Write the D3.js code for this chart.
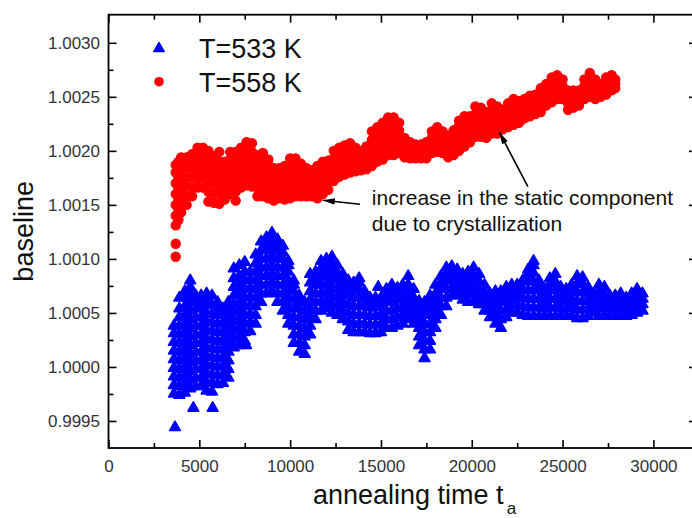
<!DOCTYPE html>
<html>
<head>
<meta charset="utf-8">
<script src="https://cdn.jsdelivr.net/npm/d3@7/dist/d3.min.js"></script>
<style>
  html, body { margin: 0; padding: 0; background: #fff; }
  svg { display: block; font-family: Arial, "Liberation Sans", Helvetica, sans-serif; }
</style>
</head>
<body>
<svg id="chart" width="692" height="518"></svg>
<script>
// ---------------- data ----------------
const seriesNames = ["T=533 K", "T=558 K"];
const seriesColors = ["#0000ff", "#ff0000"];

const xTickValues = [0, 5000, 10000, 15000, 20000, 25000, 30000];
const xMinorValues = [2500, 7500, 12500, 17500, 22500, 27500];
const yTickValues = [0.9995, 1.0000, 1.0005, 1.0010, 1.0015, 1.0020, 1.0025, 1.0030];
const yMinorValues = [0.99975, 1.00025, 1.00075, 1.00125, 1.00175, 1.00225, 1.00275];

const xTitle = "annealing time t";
const xTitleSub = "a";
const yTitle = "baseline";

const annotationLines = ["increase in the static component", "due to crystallization"];
const annotationAnchor = [14500, 1.001497];
const arrowTails = [[13850, 1.001506], [23090, 1.001668]];
const arrowTips = [[11800, 1.001543], [21520, 1.002173]];

// T = 558 K (red circles)
const redTime = [3700, 3850, 4000, 4300, 4600, 4900, 5200, 5500, 5800, 6100, 6400, 6700, 7000, 7300, 7600, 7900,
  8200, 8500, 8800, 9100, 9400, 9700, 10000, 10300, 10600, 10900, 11200, 11500, 11800, 12100, 12400, 12700,
  13000, 13300, 13600, 13900, 14200, 14500, 14800, 15100, 15400, 15700, 16000, 16300, 16600, 16900, 17200,
  17500, 17800, 18100, 18400, 18700, 19000, 19300, 19600, 19900, 20200, 20500, 20800, 21100, 21400, 21700,
  22000, 22300, 22600, 22900, 23200, 23500, 23800, 24100, 24400, 24700, 25000, 25300, 25600, 25900, 26200,
  26500, 26800, 27100, 27400, 27700, 27900];
const redBaseline = [
  [1.00102, 1.00114, 1.00131, 1.00140, 1.00150, 1.00160, 1.00170, 1.00180, 1.00187],
  [1.00136, 1.00146, 1.00156, 1.00166, 1.00176, 1.00184, 1.00190],
  [1.00143, 1.00152, 1.00162, 1.00172, 1.00182, 1.00190, 1.00194],
  [1.00150, 1.00158, 1.00167, 1.00176, 1.00185, 1.00194],
  [1.00158, 1.00166, 1.00175, 1.00184, 1.00192, 1.00197],
  [1.00166, 1.00174, 1.00182, 1.00190, 1.00198, 1.00203],
  [1.00166, 1.00175, 1.00184, 1.00192, 1.00200, 1.00203],
  [1.00153, 1.00162, 1.00171, 1.00180, 1.00189, 1.00196, 1.00200],
  [1.00152, 1.00161, 1.00170, 1.00178, 1.00187, 1.00195],
  [1.00151, 1.00160, 1.00168, 1.00176, 1.00184, 1.00190, 1.00199],
  [1.00155, 1.00163, 1.00171, 1.00179, 1.00186, 1.00190],
  [1.00160, 1.00168, 1.00176, 1.00184, 1.00192, 1.00199],
  [1.00154, 1.00162, 1.00170, 1.00178, 1.00186, 1.00194, 1.00199],
  [1.00166, 1.00174, 1.00182, 1.00190, 1.00198, 1.00203],
  [1.00168, 1.00176, 1.00184, 1.00192, 1.00200, 1.00208],
  [1.00167, 1.00175, 1.00183, 1.00191, 1.00199, 1.00207],
  [1.00158, 1.00166, 1.00174, 1.00182, 1.00190, 1.00196],
  [1.00158, 1.00166, 1.00174, 1.00182, 1.00190, 1.00198],
  [1.00156, 1.00164, 1.00172, 1.00180, 1.00187, 1.00192],
  [1.00154, 1.00162, 1.00170, 1.00178, 1.00184],
  [1.00156, 1.00164, 1.00171, 1.00178, 1.00184],
  [1.00155, 1.00163, 1.00171, 1.00179, 1.00186],
  [1.00156, 1.00164, 1.00172, 1.00180, 1.00187, 1.00193],
  [1.00158, 1.00166, 1.00174, 1.00182, 1.00188, 1.00193],
  [1.00158, 1.00166, 1.00174, 1.00181, 1.00188],
  [1.00158, 1.00165, 1.00172, 1.00179, 1.00184],
  [1.00158, 1.00165, 1.00172, 1.00178, 1.00182],
  [1.00156, 1.00164, 1.00172, 1.00180, 1.00186],
  [1.00160, 1.00168, 1.00176, 1.00184, 1.00190],
  [1.00164, 1.00171, 1.00178, 1.00185, 1.00191],
  [1.00172, 1.00179, 1.00186, 1.00193, 1.00200],
  [1.00176, 1.00183, 1.00190, 1.00197, 1.00203],
  [1.00178, 1.00185, 1.00192, 1.00199, 1.00205],
  [1.00180, 1.00187, 1.00194, 1.00201, 1.00207],
  [1.00181, 1.00188, 1.00195, 1.00203],
  [1.00182, 1.00188, 1.00194, 1.00200],
  [1.00183, 1.00190, 1.00197, 1.00204],
  [1.00186, 1.00194, 1.00202, 1.00210, 1.00218],
  [1.00190, 1.00198, 1.00206, 1.00214, 1.00222],
  [1.00192, 1.00200, 1.00208, 1.00217, 1.00226],
  [1.00196, 1.00204, 1.00212, 1.00220, 1.00226, 1.00231],
  [1.00196, 1.00204, 1.00212, 1.00220, 1.00226, 1.00231],
  [1.00198, 1.00205, 1.00212, 1.00219, 1.00226],
  [1.00194, 1.00200, 1.00206, 1.00212],
  [1.00193, 1.00199, 1.00204, 1.00208],
  [1.00193, 1.00199, 1.00206],
  [1.00193, 1.00199, 1.00206],
  [1.00193, 1.00200, 1.00208],
  [1.00198, 1.00205, 1.00212, 1.00218],
  [1.00199, 1.00207, 1.00215, 1.00222],
  [1.00198, 1.00205, 1.00212, 1.00218],
  [1.00194, 1.00201, 1.00208, 1.00214],
  [1.00196, 1.00204, 1.00212, 1.00219],
  [1.00200, 1.00208, 1.00216, 1.00223, 1.00228],
  [1.00204, 1.00211, 1.00218, 1.00225, 1.00232],
  [1.00208, 1.00215, 1.00222, 1.00228, 1.00232],
  [1.00213, 1.00220, 1.00227, 1.00234, 1.00241],
  [1.00213, 1.00220, 1.00227, 1.00234, 1.00240],
  [1.00212, 1.00219, 1.00226, 1.00232, 1.00236],
  [1.00216, 1.00223, 1.00230, 1.00237, 1.00244],
  [1.00216, 1.00223, 1.00230, 1.00236, 1.00241],
  [1.00220, 1.00226, 1.00232, 1.00238],
  [1.00222, 1.00229, 1.00236, 1.00244],
  [1.00224, 1.00232, 1.00240, 1.00248],
  [1.00226, 1.00233, 1.00240, 1.00246],
  [1.00230, 1.00236, 1.00242, 1.00248],
  [1.00232, 1.00239, 1.00245, 1.00251],
  [1.00234, 1.00240, 1.00246, 1.00252],
  [1.00236, 1.00243, 1.00250, 1.00258],
  [1.00242, 1.00249, 1.00256, 1.00262],
  [1.00245, 1.00253, 1.00261, 1.00268],
  [1.00248, 1.00256, 1.00264, 1.00270],
  [1.00248, 1.00254, 1.00260, 1.00266],
  [1.00238, 1.00244, 1.00250, 1.00256],
  [1.00240, 1.00246, 1.00251, 1.00256],
  [1.00242, 1.00248, 1.00253, 1.00256],
  [1.00248, 1.00254, 1.00260, 1.00266],
  [1.00250, 1.00258, 1.00265, 1.00272],
  [1.00248, 1.00254, 1.00260, 1.00266],
  [1.00250, 1.00256, 1.00262],
  [1.00252, 1.00259, 1.00268],
  [1.00256, 1.00263, 1.00270],
  [1.00258, 1.00262, 1.00266]
];

// T = 533 K (blue triangles)
const blueTime = [3600, 3660, 3900, 4200, 4500, 4670, 4800, 5100, 5400, 5700, 5735, 6000, 6300, 6600, 6900, 7200,
  7500, 7570, 7800, 8100, 8400, 8700, 9000, 9300, 9600, 9900, 10200, 10500, 10800, 11100, 11400, 11700, 12000,
  12300, 12600, 12900, 13200, 13500, 13800, 14100, 14400, 14700, 14850, 15000, 15300, 15600, 15900, 16200,
  16500, 16800, 17100, 17400, 17700, 18000, 18300, 18600, 18900, 19200, 19500, 19800, 20100, 20400, 20700,
  21000, 21300, 21600, 21900, 22200, 22500, 22800, 23100, 23400, 23700, 24000, 24300, 24600, 24900, 25200,
  25500, 25800, 26100, 26400, 26700, 27000, 27300, 27600, 27900, 28200, 28500, 28800, 29100, 29400];
const blueBaseline = [
  [0.99975, 0.99983, 0.99991, 0.99999, 1.00007, 1.00015, 1.00023, 1.00031, 1.00038],
  [0.99944],
  [0.99974, 0.99982, 0.99990, 0.99998, 1.00006, 1.00014, 1.00022, 1.00030, 1.00038, 1.00046, 1.00054, 1.00064],
  [0.99976, 0.99984, 0.99992, 1.00000, 1.00008, 1.00016, 1.00024, 1.00032, 1.00040, 1.00048, 1.00056, 1.00064, 1.00070],
  [0.99980, 0.99988, 0.99996, 1.00004, 1.00012, 1.00020, 1.00028, 1.00036, 1.00044, 1.00052, 1.00060, 1.00068, 1.00074, 1.00080],
  [0.99962],
  [0.99982, 0.99990, 0.99998, 1.00006, 1.00014, 1.00022, 1.00030, 1.00038, 1.00046, 1.00054, 1.00060, 1.00066],
  [0.99982, 0.99990, 0.99998, 1.00006, 1.00014, 1.00022, 1.00030, 1.00038, 1.00046, 1.00054, 1.00060, 1.00066],
  [0.99978, 0.99986, 0.99994, 1.00002, 1.00010, 1.00018, 1.00026, 1.00034, 1.00042, 1.00050, 1.00058, 1.00064, 1.00068],
  [0.99977, 0.99985, 0.99993, 1.00001, 1.00009, 1.00017, 1.00025, 1.00033, 1.00041, 1.00049, 1.00057, 1.00066],
  [0.99962],
  [0.99984, 0.99992, 1.00000, 1.00008, 1.00016, 1.00024, 1.00032, 1.00040, 1.00048, 1.00054, 1.00060],
  [0.99985, 0.99993, 1.00001, 1.00009, 1.00017, 1.00025, 1.00033, 1.00041, 1.00048, 1.00054],
  [0.99990, 0.99998, 1.00006, 1.00014, 1.00022, 1.00030, 1.00038, 1.00046, 1.00053, 1.00060],
  [1.00018, 1.00026, 1.00034, 1.00042, 1.00050, 1.00058, 1.00066, 1.00074, 1.00082, 1.00091],
  [1.00020, 1.00028, 1.00036, 1.00044, 1.00052, 1.00060, 1.00068, 1.00076, 1.00084, 1.00094],
  [1.00024, 1.00032, 1.00040, 1.00048, 1.00056, 1.00064, 1.00072, 1.00080, 1.00088, 1.00097],
  [1.00020],
  [1.00033, 1.00041, 1.00049, 1.00057, 1.00065, 1.00073, 1.00081, 1.00088],
  [1.00040, 1.00048, 1.00056, 1.00064, 1.00072, 1.00080, 1.00088, 1.00096, 1.00104],
  [1.00060, 1.00068, 1.00076, 1.00084, 1.00092, 1.00100, 1.00108, 1.00116],
  [1.00068, 1.00076, 1.00084, 1.00092, 1.00100, 1.00108, 1.00114, 1.00120],
  [1.00070, 1.00078, 1.00086, 1.00094, 1.00102, 1.00110, 1.00117, 1.00124],
  [1.00060, 1.00068, 1.00076, 1.00084, 1.00092, 1.00100, 1.00108, 1.00114, 1.00118],
  [1.00052, 1.00060, 1.00068, 1.00076, 1.00084, 1.00092, 1.00100, 1.00106, 1.00112],
  [1.00040, 1.00048, 1.00056, 1.00064, 1.00072, 1.00080, 1.00088, 1.00094, 1.00098],
  [1.00022, 1.00030, 1.00038, 1.00046, 1.00054, 1.00062, 1.00070, 1.00076, 1.00080],
  [1.00014, 1.00022, 1.00030, 1.00038, 1.00046, 1.00054, 1.00060, 1.00066],
  [1.00012, 1.00020, 1.00028, 1.00036, 1.00044, 1.00052, 1.00060],
  [1.00030, 1.00038, 1.00046, 1.00054, 1.00062, 1.00070, 1.00078, 1.00086],
  [1.00044, 1.00052, 1.00060, 1.00068, 1.00076, 1.00082, 1.00088],
  [1.00052, 1.00060, 1.00068, 1.00076, 1.00084, 1.00091, 1.00098],
  [1.00054, 1.00062, 1.00070, 1.00078, 1.00086, 1.00093, 1.00100],
  [1.00050, 1.00058, 1.00066, 1.00074, 1.00082, 1.00090, 1.00096, 1.00102],
  [1.00048, 1.00056, 1.00064, 1.00072, 1.00080, 1.00087, 1.00094],
  [1.00044, 1.00052, 1.00060, 1.00068, 1.00075, 1.00081, 1.00086],
  [1.00034, 1.00042, 1.00050, 1.00058, 1.00066, 1.00074, 1.00080],
  [1.00032, 1.00040, 1.00048, 1.00056, 1.00064, 1.00071, 1.00078],
  [1.00032, 1.00040, 1.00048, 1.00056, 1.00064, 1.00072, 1.00078, 1.00082],
  [1.00032, 1.00040, 1.00048, 1.00056, 1.00063, 1.00070],
  [1.00031, 1.00039, 1.00047, 1.00055, 1.00060, 1.00064],
  [1.00031, 1.00039, 1.00047, 1.00055, 1.00060, 1.00064],
  [1.00074],
  [1.00032, 1.00040, 1.00048, 1.00056, 1.00064],
  [1.00036, 1.00044, 1.00052, 1.00060, 1.00066, 1.00072],
  [1.00036, 1.00044, 1.00052, 1.00060, 1.00068, 1.00076],
  [1.00038, 1.00046, 1.00054, 1.00062, 1.00068, 1.00073],
  [1.00040, 1.00048, 1.00056, 1.00064, 1.00070, 1.00076],
  [1.00044, 1.00052, 1.00060, 1.00068, 1.00076, 1.00084],
  [1.00040, 1.00048, 1.00056, 1.00064, 1.00072],
  [1.00020, 1.00028, 1.00036, 1.00044, 1.00052, 1.00058, 1.00061],
  [1.00008, 1.00016, 1.00024, 1.00032, 1.00040, 1.00048, 1.00054, 1.00060],
  [1.00016, 1.00024, 1.00032, 1.00040, 1.00048, 1.00056, 1.00062, 1.00066],
  [1.00036, 1.00044, 1.00052, 1.00060, 1.00068, 1.00076],
  [1.00048, 1.00056, 1.00064, 1.00072, 1.00078, 1.00084],
  [1.00056, 1.00064, 1.00072, 1.00080, 1.00086, 1.00092],
  [1.00066, 1.00073, 1.00080, 1.00087, 1.00093],
  [1.00066, 1.00072, 1.00078, 1.00084, 1.00090],
  [1.00062, 1.00068, 1.00074, 1.00080, 1.00086],
  [1.00060, 1.00067, 1.00074, 1.00081, 1.00088],
  [1.00060, 1.00068, 1.00076, 1.00084, 1.00092],
  [1.00058, 1.00065, 1.00072, 1.00079, 1.00086],
  [1.00052, 1.00058, 1.00064, 1.00070, 1.00076],
  [1.00046, 1.00052, 1.00058, 1.00063, 1.00068],
  [1.00040, 1.00048, 1.00056, 1.00063, 1.00070],
  [1.00036, 1.00044, 1.00052, 1.00060, 1.00066, 1.00070],
  [1.00046, 1.00053, 1.00060, 1.00067, 1.00074],
  [1.00050, 1.00057, 1.00064, 1.00070, 1.00076],
  [1.00050, 1.00057, 1.00064, 1.00070, 1.00076],
  [1.00048, 1.00056, 1.00064, 1.00072, 1.00080],
  [1.00047, 1.00055, 1.00063, 1.00071, 1.00079, 1.00086, 1.00090],
  [1.00047, 1.00055, 1.00063, 1.00071, 1.00079, 1.00087, 1.00094, 1.00098],
  [1.00047, 1.00055, 1.00063, 1.00071, 1.00076, 1.00080],
  [1.00047, 1.00054, 1.00061, 1.00067, 1.00072],
  [1.00047, 1.00055, 1.00063, 1.00071, 1.00077, 1.00082],
  [1.00047, 1.00055, 1.00063, 1.00071, 1.00079, 1.00086],
  [1.00047, 1.00054, 1.00061, 1.00068, 1.00074],
  [1.00047, 1.00054, 1.00061, 1.00067, 1.00072],
  [1.00047, 1.00055, 1.00063, 1.00070, 1.00076],
  [1.00045, 1.00053, 1.00061, 1.00069, 1.00077, 1.00084],
  [1.00045, 1.00053, 1.00061, 1.00069, 1.00077, 1.00083],
  [1.00047, 1.00054, 1.00061, 1.00068, 1.00074],
  [1.00050, 1.00056, 1.00062, 1.00068],
  [1.00047, 1.00055, 1.00063, 1.00070, 1.00076],
  [1.00047, 1.00054, 1.00061, 1.00068, 1.00074],
  [1.00047, 1.00054, 1.00060, 1.00066],
  [1.00047, 1.00054, 1.00060, 1.00066],
  [1.00047, 1.00054, 1.00061, 1.00068],
  [1.00047, 1.00053, 1.00059, 1.00064],
  [1.00048, 1.00055, 1.00062, 1.00068],
  [1.00050, 1.00057, 1.00064, 1.00072],
  [1.00052, 1.00058, 1.00063, 1.00068]
];

// ---------------- drawing ----------------
const svg = d3.select("#chart");
const W = 692, H = 518;
const plot = { left: 108.5, right: 697, top: 14.7, bottom: 448 };

const x = d3.scaleLinear().domain([0, 32400]).range([plot.left, plot.right]);
const y = d3.scaleLinear().domain([0.99925, 1.00326]).range([plot.bottom, plot.top]);

svg.append("rect").attr("width", W).attr("height", H).attr("fill", "#fff");

const flatten = (times, vals) => times.flatMap((t, i) => vals[i].map(v => ({ t, v })));
const bluePts = flatten(blueTime, blueBaseline);
const redPts = flatten(redTime, redBaseline);

const tri = d3.symbol().type(d3.symbolTriangle).size(50);

svg.append("g").selectAll("path").data(bluePts).join("path")
  .attr("d", tri)
  .attr("transform", d => `translate(${x(d.t)},${y(d.v)})`)
  .attr("fill", seriesColors[0])
  .attr("stroke", seriesColors[0]).attr("stroke-width", 1.6).attr("stroke-linejoin", "round");

svg.append("g").selectAll("circle").data(redPts).join("circle")
  .attr("cx", d => x(d.t)).attr("cy", d => y(d.v)).attr("r", 4.6)
  .attr("fill", seriesColors[1])
  .attr("stroke", seriesColors[1]).attr("stroke-width", 1.2);

// axes
const fmtY = d3.format(".4f");
const axisStyle = g => {
  g.select(".domain").remove();
  g.selectAll("line").attr("stroke", "#000").attr("stroke-width", 1.6);
  g.selectAll("text").attr("fill", "#333").attr("font-size", 17)
    .attr("font-family", "Arial, 'Liberation Sans', sans-serif");
};

svg.append("g").attr("transform", `translate(0,${plot.bottom})`)
  .call(d3.axisBottom(x).tickValues(xTickValues).tickFormat(d3.format("d")).tickSize(-8).tickPadding(12))
  .call(axisStyle);
svg.append("g").attr("transform", `translate(0,${plot.bottom})`)
  .call(d3.axisBottom(x).tickValues(xMinorValues).tickFormat("").tickSize(-5))
  .call(axisStyle);
svg.append("g").attr("transform", `translate(0,${plot.top})`)
  .call(d3.axisTop(x).tickValues(xTickValues).tickFormat("").tickSize(-8))
  .call(axisStyle);
svg.append("g").attr("transform", `translate(0,${plot.top})`)
  .call(d3.axisTop(x).tickValues(xMinorValues).tickFormat("").tickSize(-5))
  .call(axisStyle);

svg.append("g").attr("transform", `translate(${plot.left},0)`)
  .call(d3.axisLeft(y).tickValues(yTickValues).tickFormat(fmtY).tickSize(-8).tickPadding(8.5))
  .call(axisStyle);
svg.append("g").attr("transform", `translate(${plot.left},0)`)
  .call(d3.axisLeft(y).tickValues(yMinorValues).tickFormat("").tickSize(-5))
  .call(axisStyle);
svg.append("g").attr("transform", `translate(${plot.right},0)`)
  .call(d3.axisRight(y).tickValues(yTickValues).tickFormat("").tickSize(-8))
  .call(axisStyle);
svg.append("g").attr("transform", `translate(${plot.right},0)`)
  .call(d3.axisRight(y).tickValues(yMinorValues).tickFormat("").tickSize(-5))
  .call(axisStyle);

// frame
svg.append("rect")
  .attr("x", plot.left).attr("y", plot.top)
  .attr("width", plot.right - plot.left).attr("height", plot.bottom - plot.top)
  .attr("fill", "none").attr("stroke", "#000").attr("stroke-width", 1.8);

// axis titles
svg.append("text")
  .attr("transform", `translate(33,${(plot.top + plot.bottom) / 2}) rotate(-90)`)
  .attr("text-anchor", "middle").attr("font-size", 27).attr("fill", "#111")
  .text(yTitle);

const xt = svg.append("text")
  .attr("x", 313).attr("y", 504).attr("font-size", 27).attr("fill", "#111");
xt.append("tspan").text(xTitle);
xt.append("tspan").attr("font-size", 17).attr("dx", 3).attr("dy", 10).text(xTitleSub);

// legend
const legend = svg.append("g");
legend.append("path").attr("d", tri).attr("transform", "translate(159,48.5)")
  .attr("fill", seriesColors[0]).attr("stroke", seriesColors[0]).attr("stroke-width", 1.2).attr("stroke-linejoin", "round");
legend.append("circle").attr("cx", 159).attr("cy", 81.7).attr("r", 4.8).attr("fill", seriesColors[1]);
legend.append("text").attr("x", 199).attr("y", 58.3).attr("font-size", 27).attr("fill", "#111").text(seriesNames[0]);
legend.append("text").attr("x", 199).attr("y", 91.7).attr("font-size", 27).attr("fill", "#111").text(seriesNames[1]);

// annotation
svg.append("defs").append("marker")
  .attr("id", "arrow").attr("viewBox", "0 0 12 8")
  .attr("refX", 12).attr("refY", 4)
  .attr("markerWidth", 12).attr("markerHeight", 8)
  .attr("markerUnits", "userSpaceOnUse").attr("orient", "auto")
  .append("path").attr("d", "M0,0.8 L12,4 L0,7.2 Z").attr("fill", "#000");

arrowTails.forEach((tail, i) => {
  svg.append("line")
    .attr("x1", x(tail[0])).attr("y1", y(tail[1]))
    .attr("x2", x(arrowTips[i][0])).attr("y2", y(arrowTips[i][1]))
    .attr("stroke", "#000").attr("stroke-width", 1.6)
    .attr("marker-end", "url(#arrow)");
});

const ann = svg.append("text").attr("font-size", 21).attr("fill", "#111");
annotationLines.forEach((line, i) => {
  ann.append("tspan")
    .attr("x", x(annotationAnchor[0]))
    .attr("y", y(annotationAnchor[1]) + i * 26)
    .text(line);
});
</script>
</body>
</html>
